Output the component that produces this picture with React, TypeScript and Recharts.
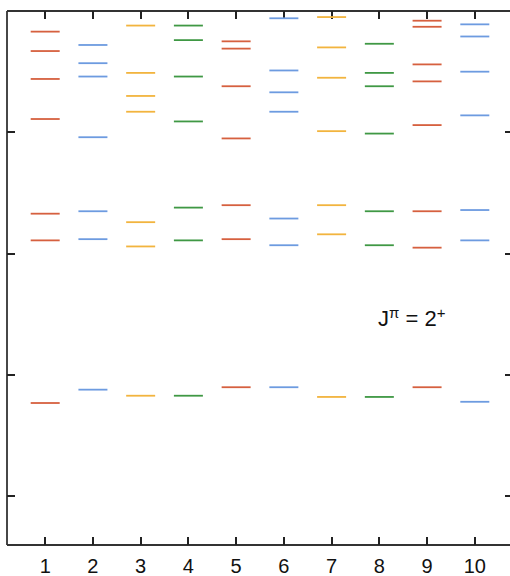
import { ScatterChart, Scatter, XAxis, YAxis } from "recharts";

// energy levels per column
const columns = [1, 2, 3, 4, 5, 6, 7, 8, 9, 10];
const levels: number[][] = [
  [4.83, 4.67, 4.44, 4.11, 3.33, 3.11, 1.77],
  [4.72, 4.57, 4.46, 3.96, 3.35, 3.12, 1.88],
  [4.88, 4.49, 4.3, 4.17, 3.26, 3.06, 1.83],
  [4.88, 4.76, 4.46, 4.09, 3.38, 3.11, 1.83],
  [4.75, 4.69, 4.38, 3.95, 3.4, 3.12, 1.9],
  [4.94, 4.51, 4.33, 4.17, 3.29, 3.07, 1.9],
  [4.95, 4.7, 4.45, 4.01, 3.4, 3.16, 1.82],
  [4.73, 4.49, 4.38, 3.99, 3.35, 3.07, 1.82],
  [4.92, 4.87, 4.56, 4.42, 4.06, 3.35, 3.05, 1.9],
  [4.89, 4.79, 4.5, 4.14, 3.36, 3.11, 1.78],
];
const palette = ["#d6603f", "#6d9be0", "#f2b43e", "#3f9844"];
const yTicks = [1, 2, 3, 4];
const xDomain: [number, number] = [0.2, 10.8];
const yDomain: [number, number] = [0.6, 5];

const font = '"Liberation Sans", Arial, Helvetica, sans-serif';
const axisColor = "#333";
const TICK = 8;

function Level(props: any) {
  const { cx, cy, fill } = props;
  return (
    <line
      x1={cx - 14.5}
      x2={cx + 14.5}
      y1={cy}
      y2={cy}
      stroke={fill}
      strokeWidth={1.8}
    />
  );
}

// inward tick marks on the frame, placed through the scales
function FrameTick(props: any) {
  const { cx, cy, payload } = props;
  const d = payload.dir as string;
  const dx = d === "l" ? TICK : d === "r" ? -TICK : 0;
  const dy = d === "b" ? -TICK : d === "t" ? TICK : 0;
  return (
    <line
      x1={cx}
      y1={cy}
      x2={cx + dx}
      y2={cy + dy}
      stroke="#222"
      strokeWidth={2}
      shapeRendering="crispEdges"
    />
  );
}

const frameTicks = [
  ...columns.map((c) => ({ x: c, y: yDomain[0], dir: "b" })),
  ...columns.map((c) => ({ x: c, y: yDomain[1], dir: "t" })),
  ...yTicks.map((t) => ({ x: xDomain[0], y: t, dir: "l" })),
  ...yTicks.map((t) => ({ x: xDomain[1], y: t, dir: "r" })),
];

function BottomLabel(props: any) {
  const { x, y, payload } = props;
  return (
    <text
      x={x}
      y={y + 28}
      textAnchor="middle"
      fill="#111"
      fontSize={20}
      fontFamily={font}
    >
      {payload.value}
    </text>
  );
}

const axisProps = {
  stroke: axisColor,
  strokeWidth: 1.8,
  tickLine: false,
  tickSize: 0,
  tickMargin: 0,
  interval: 0 as const,
};

export default function App() {
  return (
    <div
      style={{
        position: "absolute",
        left: 0,
        top: 0,
        width: 510,
        height: 576,
        overflow: "hidden",
        background: "#fff",
      }}
    >
      <ScatterChart
        width={516}
        height={576}
        margin={{ top: 10, right: 2, bottom: 0, left: 6 }}
      >
        <XAxis
          xAxisId="bottom"
          type="number"
          dataKey="x"
          domain={xDomain}
          ticks={columns}
          height={31}
          tick={<BottomLabel />}
          {...axisProps}
        />
        <XAxis
          xAxisId="top"
          orientation="top"
          type="number"
          dataKey="x"
          domain={xDomain}
          ticks={columns}
          height={1}
          tick={false}
          {...axisProps}
        />
        <YAxis
          yAxisId="left"
          type="number"
          dataKey="y"
          domain={yDomain}
          ticks={yTicks}
          width={1}
          tick={false}
          {...axisProps}
        />
        <YAxis
          yAxisId="right"
          orientation="right"
          type="number"
          dataKey="y"
          domain={yDomain}
          ticks={yTicks}
          width={1}
          tick={false}
          {...axisProps}
        />
        <Scatter
          xAxisId="bottom"
          yAxisId="left"
          data={frameTicks}
          shape={<FrameTick />}
          isAnimationActive={false}
        />
        {/* same domains on both pairs of axes, so columns can be split between them */}
        {columns.map((c, i) => (
          <Scatter
            key={c}
            xAxisId={i % 2 === 0 ? "bottom" : "top"}
            yAxisId={i % 2 === 0 ? "left" : "right"}
            data={levels[i].map((v) => ({ x: c, y: v }))}
            fill={palette[i % 4]}
            shape={<Level />}
            isAnimationActive={false}
          />
        ))}
      </ScatterChart>
      <div
        style={{
          position: "absolute",
          left: 378,
          top: 307,
          fontFamily: font,
          fontSize: 22,
          lineHeight: "24px",
          color: "#111",
          whiteSpace: "nowrap",
        }}
      >
        J<sup style={{ fontSize: 15, lineHeight: 0 }}>π</sup> = 2
        <sup style={{ fontSize: 15, lineHeight: 0 }}>+</sup>
      </div>
    </div>
  );
}
